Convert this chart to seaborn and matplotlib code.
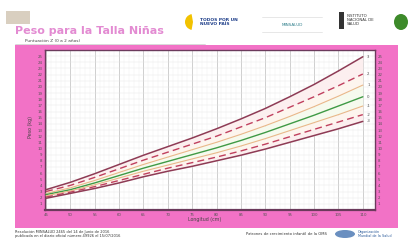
import pandas as pd
import numpy as np
import matplotlib.pyplot as plt
import matplotlib.patches as patches
import seaborn as sns

# Longitud (cm) y curvas de puntuacion Z del peso (kg)
longitud = [45, 50, 55, 60, 65, 70, 75, 80, 85, 90, 95, 100, 105, 110]
z_p3 = [3.3, 4.5, 5.9, 7.4, 8.9, 10.3, 11.7, 13.2, 14.8, 16.5, 18.4, 20.4, 22.6, 24.9]
z_p2 = [3.0, 4.0, 5.3, 6.7, 8.1, 9.4, 10.7, 12.0, 13.5, 15.0, 16.7, 18.4, 20.2, 22.1]
z_p1 = [2.7, 3.6, 4.8, 6.1, 7.4, 8.6, 9.8, 11.0, 12.3, 13.7, 15.2, 16.8, 18.5, 20.3]
z_0 = [2.5, 3.3, 4.4, 5.6, 6.8, 7.9, 9.0, 10.1, 11.3, 12.6, 14.0, 15.4, 16.9, 18.4]
z_m1 = [2.3, 3.1, 4.1, 5.2, 6.3, 7.3, 8.3, 9.3, 10.4, 11.6, 12.9, 14.2, 15.5, 16.9]
z_m2 = [2.1, 2.9, 3.8, 4.8, 5.8, 6.8, 7.7, 8.6, 9.6, 10.7, 11.9, 13.1, 14.3, 15.5]
z_m3 = [1.9, 2.7, 3.5, 4.4, 5.4, 6.3, 7.1, 8.0, 8.9, 9.9, 11.0, 12.1, 13.2, 14.4]

z_names = ["3", "2", "1", "0", "-1", "-2", "-3"]
x_ticks = list(range(45, 111, 5))
y_ticks = list(range(1, 26))

curves = {"3": z_p3, "2": z_p2, "1": z_p1, "0": z_0, "-1": z_m1, "-2": z_m2, "-3": z_m3}
df = pd.concat(
    [pd.DataFrame({"longitud": longitud, "peso": v, "z": k}) for k, v in curves.items()]
)

sns.set_theme(style="white")
plt.rcParams["font.family"] = ["DejaVu Sans"]

pink = "#f272c6"
styles = {
    "3": ("#8e3b55", "-", 1.1),
    "2": ("#c0405e", (0, (5, 3)), 1.0),
    "1": ("#e9b88a", "-", 0.8),
    "0": ("#3f9a45", "-", 1.0),
    "-1": ("#e9b88a", "-", 0.8),
    "-2": ("#c0405e", (0, (5, 3)), 1.0),
    "-3": ("#8e3b55", "-", 1.1),
}

fig = plt.figure(figsize=(4.11, 2.41), dpi=100)
fig.patch.set_facecolor("white")

# marco rosado en un eje de fondo
bg = fig.add_axes([0, 0, 1, 1], zorder=0)
bg.set_xlim(0, 411)
bg.set_ylim(241, 0)
bg.axis("off")
bg.add_patch(patches.Rectangle((15, 45), 383, 183, facecolor=pink, edgecolor="none"))

ax = fig.add_axes([45 / 411, 1 - 210 / 241, 330 / 411, 160 / 241], zorder=2)
ax.set_facecolor("white")

# bandas suaves entre curvas
ax.fill_between(longitud, z_p2, z_p3, color="#fcefef", lw=0, zorder=1)
ax.fill_between(longitud, z_p1, z_p2, color="#fdf5ee", lw=0, zorder=1)
ax.fill_between(longitud, z_m1, z_p1, color="#f6faee", lw=0, zorder=1)
ax.fill_between(longitud, z_m2, z_m1, color="#fdf5ee", lw=0, zorder=1)
ax.fill_between(longitud, z_m3, z_m2, color="#fcefef", lw=0, zorder=1)

for name in z_names:
    c, ls, lw = styles[name]
    sns.lineplot(data=df[df["z"] == name], x="longitud", y="peso", color=c,
                 linestyle=ls, linewidth=lw, ax=ax, zorder=3)
    ax.text(110.9, curves[name][-1], name, fontsize=2.8, color="#555555",
            va="center", ha="left", zorder=4)

ax.set_xlim(44.8, 112.5)
ax.set_ylim(0, 26)
ax.set_xticks(x_ticks)
ax.set_xticks(range(45, 113), minor=True)
ax.set_yticks(y_ticks)
ax.grid(which="major", axis="x", color="#c8c8c8", lw=0.6)
ax.grid(which="minor", axis="x", color="#ececec", lw=0.3)
ax.grid(which="major", axis="y", color="#e6e6e6", lw=0.3)
ax.set_axisbelow(True)
ax.tick_params(axis="both", labelsize=2.8, length=0, pad=2, colors="#555555")
ax.tick_params(axis="y", labelleft=True, labelright=True)
ax.set_xlabel("")
ax.set_ylabel("")
for s in ax.spines.values():
    s.set_color("#6b3a5c")
    s.set_linewidth(1.0)
ax.spines["bottom"].set_linewidth(1.6)

bg.text(205, 219, "Longitud (cm)", fontsize=3.4, color="#444444",
        ha="center", va="center")
bg.text(30, 127, "Peso (kg)", fontsize=3.4, color="#444444",
        ha="center", va="center", rotation=90)

# encabezado
bg.text(15, 31, "Peso para la Talla Niñas", fontsize=8.0,
        fontweight="bold", color="#e38bd2", ha="left", va="center")
bg.text(25, 41.5, "Puntuación Z (0 a 2 años)", fontsize=3.1,
        color="#444444", ha="left", va="center")
bg.plot([15, 205], [44, 44], color="#c9c9c9", lw=0.5)

# logos (aproximados)
bg.add_patch(patches.Rectangle((6, 11), 24, 13, facecolor="#d9cfc0", edgecolor="none"))
bg.add_patch(patches.Wedge((193, 22), 8, 100, 260, facecolor="#f2c200", edgecolor="none"))
bg.text(200, 22, "TODOS POR UN\nNUEVO PAÍS", fontsize=3.2, fontweight="bold",
        color="#1f3f8a", ha="left", va="center", linespacing=0.9)
bg.text(292, 25, "MINSALUD", fontsize=3.0, color="#2d7d8a", ha="center", va="center")
bg.plot([262, 322], [17, 17], color="#dddddd", lw=0.5)
bg.plot([262, 322], [32, 32], color="#dddddd", lw=0.5)
bg.add_patch(patches.Rectangle((339, 12), 5, 17, facecolor="#333333", edgecolor="none"))
bg.text(347, 20, "INSTITUTO\nNACIONAL DE\nSALUD", fontsize=2.8, color="#333333",
        ha="left", va="center", linespacing=0.9)
bg.add_patch(patches.Ellipse((401, 22), 14, 16, facecolor="#3d8a2a", edgecolor="none"))

# pie de pagina
bg.text(15, 233.5, "Resolución MINSALUD 2465 del 14 de Junio de 2016\n"
        "publicada en el diario oficial número 49926 el 15/07/2016",
        fontsize=2.6, color="#333333", ha="left", va="center", linespacing=1.0)
bg.text(246, 234, "Patrones de crecimiento infantil de la OMS", fontsize=2.7,
        color="#333333", ha="left", va="center")
bg.add_patch(patches.Ellipse((345, 234), 20, 8, facecolor="#6a8fc0", edgecolor="none"))
bg.text(358, 234, "Organización\nMundial de la Salud", fontsize=2.4,
        color="#2a5a9a", ha="left", va="center", linespacing=0.9)

fig.savefig("out.png", dpi=100)
